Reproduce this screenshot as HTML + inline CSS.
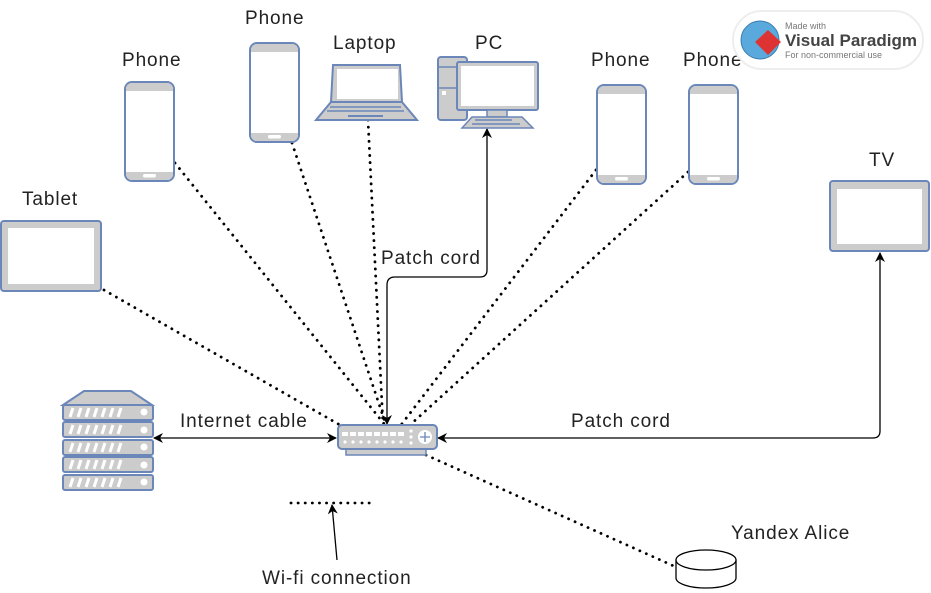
<!DOCTYPE html>
<html><head><meta charset="utf-8"><style>
body{margin:0;background:#fff}
svg{display:block}
text{font-family:"Liberation Sans","DejaVu Sans",sans-serif;font-size:19px;letter-spacing:0.9px;fill:#222}
</style></head><body>
<svg width="931" height="593" viewBox="0 0 931 593" xmlns="http://www.w3.org/2000/svg">
<defs>
<marker id="ar" viewBox="0 0 10 10" refX="9" refY="5" markerWidth="10" markerHeight="10" orient="auto-start-reverse" markerUnits="userSpaceOnUse"><path d="M0,0 L10,5 L0,10 L3,5 z" fill="#000"/></marker>
<g id="phone">
<rect x="1" y="1" width="49" height="99" rx="7" fill="#fff" stroke="#6b86b8" stroke-width="2"/>
<path d="M2,8 a6,6 0 0 1 6,-6 h35 a6,6 0 0 1 6,6 v2 h-47z" fill="#ccc"/>
<path d="M2,91 h47 v2 a6,6 0 0 1 -6,6 h-35 a6,6 0 0 1 -6,-6z" fill="#ccc"/>
<rect x="19" y="93" width="13" height="3.5" rx="1.7" fill="#fff"/>
</g>
</defs>

<g stroke="#000" stroke-width="2.8" stroke-dasharray="0.1 7" stroke-linecap="round" fill="none">
<line x1="175" y1="163" x2="385" y2="425"/>
<line x1="292" y1="143" x2="386" y2="425"/>
<line x1="368" y1="120" x2="383" y2="425"/>
<line x1="104" y1="290" x2="340" y2="425"/>
<line x1="596" y1="170" x2="401" y2="425"/>
<line x1="688" y1="172" x2="410" y2="425"/>
<line x1="426" y1="455" x2="676" y2="567"/>
<line x1="291" y1="503" x2="375" y2="503"/>
</g>

<g stroke="#000" stroke-width="1.3" fill="none">
<path d="M387,424 V285 Q387,277 395,277 H480 Q487,277 487,270 V129" marker-start="url(#ar)" marker-end="url(#ar)"/>
<line x1="154" y1="438" x2="336" y2="438" marker-start="url(#ar)" marker-end="url(#ar)"/>
<path d="M438,438 H873 Q880,438 880,431 V253" marker-start="url(#ar)" marker-end="url(#ar)"/>
<line x1="337" y1="560" x2="332" y2="505" marker-end="url(#ar)"/>
</g>

<use href="#phone" x="124" y="81"/>
<use href="#phone" x="249" y="42"/>
<use href="#phone" x="596" y="84"/>
<use href="#phone" x="688" y="84"/>

<rect x="1" y="221" width="100" height="70" rx="3" fill="#ccc" stroke="#6b86b8" stroke-width="2"/>
<rect x="8" y="228" width="86" height="56" fill="#fff"/>
<rect x="830" y="181" width="99" height="70" rx="3" fill="#ccc" stroke="#6b86b8" stroke-width="2"/>
<rect x="837" y="189" width="85" height="55" fill="#fff"/>

<path d="M333,65 H400 L402,102 H331z" fill="#ccc" stroke="#6b86b8" stroke-width="2"/>
<rect x="337" y="69" width="61" height="30" fill="#fff"/>
<path d="M331,102 H402 L417,120 H316z" fill="#ccc" stroke="#6b86b8" stroke-width="2"/>
<line x1="330" y1="107" x2="401" y2="107" stroke="#6b86b8" stroke-width="1.5"/>
<line x1="327" y1="111" x2="404" y2="111" stroke="#6b86b8" stroke-width="1.5"/>
<line x1="348" y1="116" x2="383" y2="116" stroke="#6b86b8" stroke-width="2"/>

<rect x="438" y="57" width="29" height="63" rx="3" fill="#ccc" stroke="#6b86b8" stroke-width="2"/>
<line x1="438" y1="67" x2="467" y2="67" stroke="#6b86b8" stroke-width="1.5"/>
<line x1="438" y1="88" x2="467" y2="88" stroke="#6b86b8" stroke-width="1.5"/>
<rect x="442" y="91" width="4" height="4" fill="#fff"/>
<rect x="457" y="62" width="81" height="48" rx="2" fill="#ccc" stroke="#6b86b8" stroke-width="2"/>
<rect x="461" y="66" width="73" height="40" fill="#fff"/>
<rect x="487" y="110" width="20" height="7" fill="#ccc" stroke="#6b86b8" stroke-width="1.5"/>
<path d="M472,117 H522 L533,128 H462z" fill="#ccc" stroke="#6b86b8" stroke-width="1.5"/>
<line x1="475" y1="120" x2="512" y2="120" stroke="#6b86b8" stroke-width="1.5"/>
<line x1="472" y1="124" x2="520" y2="124" stroke="#6b86b8" stroke-width="1.5"/>

<rect x="346" y="445" width="80" height="10" fill="#ccc" stroke="#6b86b8" stroke-width="1.5"/>
<rect x="338" y="425" width="99" height="24" rx="4" fill="#ccc" stroke="#6b86b8" stroke-width="2"/>
<g fill="#fff">
<rect x="342" y="432" width="6" height="4"/><rect x="350" y="432" width="6" height="4"/><rect x="358" y="432" width="6" height="4"/><rect x="366" y="432" width="6" height="4"/><rect x="374" y="432" width="6" height="4"/><rect x="382" y="432" width="6" height="4"/><rect x="390" y="432" width="6" height="4"/><rect x="398" y="432" width="6" height="4"/>
<circle cx="345" cy="442" r="1.6"/><circle cx="353" cy="442" r="1.6"/><circle cx="361" cy="442" r="1.6"/><circle cx="369" cy="442" r="1.6"/><circle cx="377" cy="442" r="1.6"/><circle cx="385" cy="442" r="1.6"/><circle cx="393" cy="442" r="1.6"/><circle cx="401" cy="442" r="1.6"/>
<circle cx="411" cy="431" r="1.6"/><circle cx="411" cy="437" r="1.6"/><circle cx="411" cy="443" r="1.6"/>
<circle cx="425" cy="437" r="7"/>
</g>
<path d="M425,432 V442 M420,437 H430" stroke="#6b86b8" stroke-width="1.3"/>

<path d="M63,405 L84,391 H131 L152,405z" fill="#ccc" stroke="#6b86b8" stroke-width="2"/>
<g fill="#ccc" stroke="#6b86b8" stroke-width="2">
<rect x="63" y="405" width="90" height="15" rx="2"/>
<rect x="63" y="422" width="90" height="15" rx="2"/>
<rect x="63" y="440" width="90" height="15" rx="2"/>
<rect x="63" y="457" width="90" height="15" rx="2"/>
<rect x="63" y="475" width="90" height="15" rx="2"/>
</g>
<g stroke="#fff" stroke-width="3">
<path d="M70,417 l3,-9 M78,417 l3,-9 M86,417 l3,-9 M94,417 l3,-9 M102,417 l3,-9 M110,417 l3,-9 M118,417 l3,-9"/>
<path d="M70,434 l3,-9 M78,434 l3,-9 M86,434 l3,-9 M94,434 l3,-9 M102,434 l3,-9 M110,434 l3,-9 M118,434 l3,-9"/>
<path d="M70,452 l3,-9 M78,452 l3,-9 M86,452 l3,-9 M94,452 l3,-9 M102,452 l3,-9 M110,452 l3,-9 M118,452 l3,-9"/>
<path d="M70,469 l3,-9 M78,469 l3,-9 M86,469 l3,-9 M94,469 l3,-9 M102,469 l3,-9 M110,469 l3,-9 M118,469 l3,-9"/>
<path d="M70,487 l3,-9 M78,487 l3,-9 M86,487 l3,-9 M94,487 l3,-9 M102,487 l3,-9 M110,487 l3,-9 M118,487 l3,-9"/>
</g>
<g fill="#fff"><circle cx="144" cy="412" r="3.5"/><circle cx="144" cy="430" r="3.5"/><circle cx="144" cy="447" r="3.5"/><circle cx="144" cy="465" r="3.5"/><circle cx="144" cy="482" r="3.5"/></g>

<path d="M676,560 V578 A30,10 0 0 0 736,578 V560" fill="#fff" stroke="#000" stroke-width="1.3"/>
<ellipse cx="706" cy="560" rx="30" ry="10" fill="#fff" stroke="#000" stroke-width="1.3"/>

<text x="122" y="66">Phone</text>
<text x="245" y="24">Phone</text>
<text x="333" y="49">Laptop</text>
<text x="475" y="49">PC</text>
<text x="591" y="66">Phone</text>
<text x="683" y="66">Phone</text>
<text x="22" y="205">Tablet</text>
<text x="869" y="166">TV</text>
<text x="381" y="264">Patch cord</text>
<text x="180" y="427">Internet cable</text>
<text x="571" y="427">Patch cord</text>
<text x="731" y="539">Yandex Alice</text>
<text x="262" y="584">Wi-fi connection</text>

<rect x="733" y="11" width="190" height="58" rx="29" fill="#fff" stroke="#eee" stroke-width="2"/>
<circle cx="760" cy="40" r="19" fill="#5aa9dc" stroke="#3a7fb0" stroke-width="1"/>
<path d="M768,30 l13,12 -13,13 -13,-13z" fill="#d33"/>
<text x="785" y="29" style="font-size:9px;letter-spacing:0;fill:#777">Made with</text>
<text x="785" y="46" style="font-size:17px;letter-spacing:0;font-weight:bold;fill:#444">Visual Paradigm</text>
<text x="785" y="58" style="font-size:9px;letter-spacing:0;fill:#777">For non-commercial use</text>
</svg>
</body></html>
